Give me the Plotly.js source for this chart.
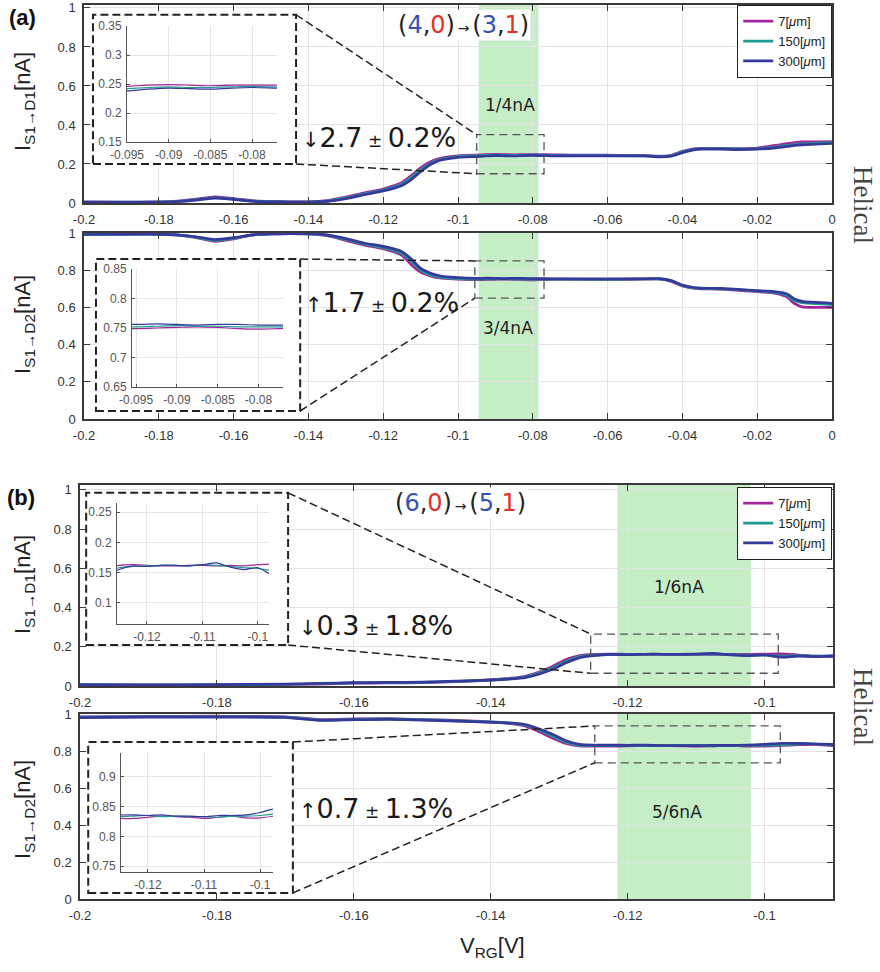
<!DOCTYPE html>
<html>
<head>
<meta charset="utf-8">
<script src="https://cdn.plot.ly/plotly-3.0.1.min.js"></script>
<style>
  html, body { margin: 0; padding: 0; background: #fff; }
  #chart { width: 880px; height: 972px; }
</style>
</head>
<body>
<div id="chart"></div>
<script>
// ---- Panel (a): gate sweep and currents for the three channel lengths ----
const xA = [-0.2, -0.19, -0.18, -0.175, -0.17, -0.165, -0.16, -0.155, -0.15, -0.145,
            -0.14, -0.135, -0.13, -0.125, -0.12, -0.115, -0.1125, -0.11, -0.1075, -0.105,
            -0.1, -0.095, -0.0925, -0.09, -0.0875, -0.085, -0.0825, -0.08, -0.0775, -0.075,
            -0.07, -0.06, -0.05, -0.046, -0.043, -0.04, -0.037, -0.035, -0.03, -0.025,
            -0.02, -0.015, -0.012, -0.01, -0.008, 0];

const a1_7   = [0.006, 0.005, 0.006, 0.010, 0.020, 0.032, 0.022, 0.012, 0.008, 0.006,
                0.006, 0.012, 0.030, 0.052, 0.072, 0.105, 0.140, 0.180, 0.210, 0.228,
                0.242, 0.246, 0.248, 0.249, 0.248, 0.247, 0.248, 0.248, 0.248, 0.247,
                0.246, 0.245, 0.244, 0.240, 0.245, 0.265, 0.278, 0.280, 0.280, 0.279,
                0.282, 0.295, 0.305, 0.310, 0.313, 0.315];
const a1_150 = [0.004, 0.004, 0.005, 0.008, 0.017, 0.028, 0.020, 0.010, 0.007, 0.005,
                0.005, 0.010, 0.026, 0.047, 0.066, 0.097, 0.130, 0.170, 0.200, 0.222,
                0.238, 0.242, 0.244, 0.245, 0.244, 0.244, 0.245, 0.246, 0.245, 0.244,
                0.243, 0.243, 0.242, 0.238, 0.243, 0.262, 0.275, 0.278, 0.279, 0.277,
                0.278, 0.287, 0.295, 0.300, 0.303, 0.310];
const a1_300 = [0.003, 0.003, 0.004, 0.007, 0.015, 0.025, 0.018, 0.009, 0.006, 0.005,
                0.005, 0.008, 0.022, 0.043, 0.062, 0.090, 0.120, 0.160, 0.195, 0.218,
                0.234, 0.238, 0.241, 0.243, 0.242, 0.241, 0.243, 0.244, 0.243, 0.242,
                0.242, 0.242, 0.241, 0.236, 0.240, 0.258, 0.272, 0.276, 0.276, 0.274,
                0.276, 0.283, 0.290, 0.295, 0.298, 0.305];

const a2_7   = [0.995, 0.996, 0.995, 0.990, 0.975, 0.955, 0.968, 0.990, 0.995, 0.996,
                0.995, 0.985, 0.960, 0.935, 0.915, 0.880, 0.830, 0.790, 0.770, 0.758,
                0.752, 0.749, 0.750, 0.751, 0.752, 0.751, 0.749, 0.748, 0.749, 0.750,
                0.751, 0.750, 0.752, 0.752, 0.740, 0.715, 0.703, 0.700, 0.698, 0.692,
                0.685, 0.675, 0.655, 0.620, 0.603, 0.600];
const a2_150 = [0.993, 0.994, 0.994, 0.990, 0.978, 0.960, 0.972, 0.990, 0.995, 0.996,
                0.995, 0.988, 0.965, 0.940, 0.922, 0.890, 0.850, 0.800, 0.775, 0.763,
                0.755, 0.752, 0.753, 0.754, 0.753, 0.753, 0.752, 0.752, 0.752, 0.752,
                0.752, 0.751, 0.753, 0.753, 0.743, 0.718, 0.705, 0.702, 0.700, 0.695,
                0.688, 0.680, 0.665, 0.635, 0.625, 0.615];
const a2_300 = [0.992, 0.993, 0.993, 0.989, 0.980, 0.965, 0.975, 0.990, 0.995, 0.996,
                0.996, 0.990, 0.970, 0.945, 0.928, 0.900, 0.860, 0.810, 0.785, 0.770,
                0.760, 0.756, 0.757, 0.756, 0.755, 0.756, 0.756, 0.755, 0.755, 0.754,
                0.754, 0.753, 0.754, 0.755, 0.745, 0.720, 0.707, 0.704, 0.702, 0.697,
                0.690, 0.683, 0.672, 0.645, 0.632, 0.622];

// ---- Panel (b) ----
const xB = [-0.2, -0.19, -0.18, -0.17, -0.165, -0.16, -0.155, -0.15, -0.145, -0.14,
            -0.137, -0.135, -0.133, -0.131, -0.129, -0.127, -0.125, -0.1225, -0.12, -0.1175,
            -0.115, -0.1125, -0.11, -0.1075, -0.105, -0.1025, -0.1, -0.0975, -0.095, -0.0925,
            -0.09];

const b1_7   = [0.005, 0.004, 0.005, 0.008, 0.010, 0.014, 0.016, 0.017, 0.022, 0.032,
                0.040, 0.050, 0.070, 0.100, 0.135, 0.155, 0.162, 0.163, 0.162, 0.161,
                0.161, 0.162, 0.162, 0.161, 0.162, 0.161, 0.163, 0.164, 0.158, 0.152,
                0.150];
const b1_150 = [0.006, 0.005, 0.006, 0.009, 0.012, 0.016, 0.017, 0.018, 0.023, 0.030,
                0.038, 0.046, 0.065, 0.092, 0.125, 0.150, 0.158, 0.160, 0.161, 0.162,
                0.162, 0.161, 0.163, 0.162, 0.160, 0.158, 0.157, 0.153, 0.155, 0.152,
                0.152];
const b1_300 = [0.007, 0.006, 0.007, 0.010, 0.013, 0.017, 0.018, 0.020, 0.025, 0.030,
                0.036, 0.043, 0.060, 0.085, 0.118, 0.145, 0.155, 0.161, 0.160, 0.162,
                0.162, 0.161, 0.163, 0.166, 0.159, 0.155, 0.158, 0.147, 0.152, 0.150,
                0.155];

const b2_7   = [0.990, 0.992, 0.993, 0.990, 0.975, 0.978, 0.980, 0.975, 0.970, 0.962,
                0.952, 0.940, 0.910, 0.875, 0.845, 0.832, 0.830, 0.830, 0.832, 0.834,
                0.833, 0.832, 0.830, 0.832, 0.834, 0.831, 0.831, 0.834, 0.838, 0.840,
                0.832];
const b2_150 = [0.988, 0.990, 0.990, 0.988, 0.972, 0.976, 0.978, 0.974, 0.968, 0.962,
                0.955, 0.945, 0.920, 0.885, 0.852, 0.836, 0.833, 0.834, 0.835, 0.833,
                0.834, 0.833, 0.833, 0.832, 0.834, 0.834, 0.835, 0.838, 0.843, 0.842,
                0.836];
const b2_300 = [0.985, 0.988, 0.988, 0.986, 0.970, 0.974, 0.976, 0.972, 0.966, 0.960,
                0.956, 0.948, 0.925, 0.895, 0.860, 0.840, 0.836, 0.836, 0.835, 0.836,
                0.834, 0.834, 0.833, 0.835, 0.835, 0.836, 0.840, 0.846, 0.845, 0.842,
                0.840];

// ---- tick labels ----
const tickXA = [-0.2, -0.18, -0.16, -0.14, -0.12, -0.1, -0.08, -0.06, -0.04, -0.02, 0];
const tickXAText = ['-0.2', '-0.18', '-0.16', '-0.14', '-0.12', '-0.1', '-0.08', '-0.06', '-0.04', '-0.02', '0'];
const tickXB = [-0.2, -0.18, -0.16, -0.14, -0.12, -0.1];
const tickXBText = ['-0.2', '-0.18', '-0.16', '-0.14', '-0.12', '-0.1'];
const tickY = [0, 0.2, 0.4, 0.6, 0.8, 1];
const tickYText = ['0', '0.2', '0.4', '0.6', '0.8', '1'];
const tickInsA = [-0.095, -0.09, -0.085, -0.08];
const tickInsAText = ['-0.095', '-0.09', '-0.085', '-0.08'];
const tickInsB = [-0.12, -0.11, -0.1];
const tickInsBText = ['-0.12', '-0.11', '-0.1'];
const tickInsA1Y = [0.15, 0.2, 0.25, 0.3, 0.35];
const tickInsA1YText = ['0.15', '0.2', '0.25', '0.3', '0.35'];
const tickInsA2Y = [0.65, 0.7, 0.75, 0.8, 0.85];
const tickInsA2YText = ['0.65', '0.7', '0.75', '0.8', '0.85'];
const tickInsB1Y = [0.1, 0.15, 0.2, 0.25];
const tickInsB1YText = ['0.1', '0.15', '0.2', '0.25'];
const tickInsB2Y = [0.75, 0.8, 0.85, 0.9];
const tickInsB2YText = ['0.75', '0.8', '0.85', '0.9'];

// plateau bands (gate voltage windows)
const bandA = [-0.0945, -0.0785];
const bandB = [-0.1215, -0.102];

// zoom windows shown in the insets
const winA1X = [-0.095, -0.077], winA1Y = [0.15, 0.35];
const winA2X = [-0.0955, -0.077], winA2Y = [0.65, 0.85];
const winB1X = [-0.1254, -0.098], winB1Y = [0.065, 0.265];
const winB2X = [-0.1248, -0.0977], winB2Y = [0.74, 0.94];

// dashed frames around each inset, in the host panel's data units
const boxA1X = [-0.1976, -0.1433], boxA1Y = [0.2, 0.965];
const boxA2X = [-0.1968, -0.1422], boxA2Y = [0.043, 0.86];
const boxB1X = [-0.1991, -0.1696], boxB1Y = [0.209, 0.985];
const boxB2X = [-0.1988, -0.1689], boxB2Y = [0.033, 0.853];

const seriesNames = ['7[<i>\u03bc</i>m]', '150[<i>\u03bc</i>m]', '300[<i>\u03bc</i>m]'];
const seriesColors = ['#a0269c', '#1f9b92', '#35399b'];

const SANS = '"Liberation Sans", Arial, sans-serif';
const DJV = '"DejaVu Sans", Verdana, sans-serif';
const SERIF = '"Liberation Serif", "Times New Roman", serif';

const W = 880, H = 972;
const px = v => v / W;
const py = v => 1 - v / H;

const traces = [];
function addGroup(xs, ys, axId, width, legendKey) {
  ys.forEach((y, i) => {
    traces.push({
      type: 'scatter', mode: 'lines', x: xs, y: y,
      xaxis: 'x' + axId, yaxis: 'y' + axId,
      name: seriesNames[i],
      line: { color: seriesColors[i], width: width, shape: 'spline', smoothing: 0.6 },
      showlegend: !!legendKey,
      legend: legendKey || 'legend',
      hoverinfo: 'skip'
    });
  });
}
addGroup(xA, [a1_7, a1_150, a1_300], '', 2.7, 'legend');
addGroup(xA, [a2_7, a2_150, a2_300], '2', 2.7, null);
addGroup(xB, [b1_7, b1_150, b1_300], '3', 2.7, 'legend2');
addGroup(xB, [b2_7, b2_150, b2_300], '4', 2.7, null);
addGroup(xA, [a1_7, a1_150, a1_300], '5', 1.2, null);
addGroup(xA, [a2_7, a2_150, a2_300], '6', 1.2, null);
addGroup(xB, [b1_7, b1_150, b1_300], '7', 1.2, null);
addGroup(xB, [b2_7, b2_150, b2_300], '8', 1.2, null);

const axMain = {
  showline: true, mirror: 'ticks', linecolor: '#3a3a3a', linewidth: 1.5,
  ticks: 'inside', ticklen: 6, tickwidth: 1.2, tickcolor: '#3a3a3a',
  showgrid: true, gridcolor: '#e3e3e3', gridwidth: 1, zeroline: false,
  tickfont: { family: SANS, size: 13, color: '#333' }, ticklabelstandoff: 4,
  ticklabeloverflow: 'allow', fixedrange: true, tickmode: 'array'
};
const axInset = {
  showline: true, mirror: false, linecolor: '#555', linewidth: 1,
  ticks: 'inside', ticklen: 3, tickwidth: 1, tickcolor: '#555',
  showgrid: true, gridcolor: '#e6e6e6', gridwidth: 1, zeroline: false,
  tickfont: { family: SANS, size: 12, color: '#555' }, ticklabelstandoff: 2,
  ticklabeloverflow: 'allow', fixedrange: true, tickmode: 'array'
};
const ax = (base, extra) => Object.assign({}, base, extra);

const legendStyle = {
  xanchor: 'right', yanchor: 'top',
  bgcolor: '#fff', bordercolor: '#222', borderwidth: 1.2,
  font: { family: SANS, size: 13, color: '#222' }, tracegroupgap: 0
};

const layout = {
  width: W, height: H,
  margin: { l: 0, r: 0, t: 0, b: 0 },
  paper_bgcolor: '#fff', plot_bgcolor: '#fff',
  font: { family: SANS, color: '#222' },
  xaxis:  ax(axMain, { domain: [px(84), px(832)], range: [-0.2, 0], anchor: 'y', tickvals: tickXA, ticktext: tickXAText }),
  yaxis:  ax(axMain, { domain: [py(203), py(5)], range: [0, 1.015], anchor: 'x', tickvals: tickY, ticktext: tickYText }),
  xaxis2: ax(axMain, { domain: [px(84), px(832)], range: [-0.2, 0], anchor: 'y2', tickvals: tickXA, ticktext: tickXAText }),
  yaxis2: ax(axMain, { domain: [py(419), py(233)], range: [0, 1], anchor: 'x2', tickvals: tickY, ticktext: tickYText }),
  xaxis3: ax(axMain, { domain: [px(80), px(833)], range: [-0.2, -0.09], anchor: 'y3', tickvals: tickXB, ticktext: tickXBText }),
  yaxis3: ax(axMain, { domain: [py(686), py(485)], range: [0, 1.025], anchor: 'x3', tickvals: tickY, ticktext: tickYText }),
  xaxis4: ax(axMain, { domain: [px(80), px(833)], range: [-0.2, -0.09], anchor: 'y4', tickvals: tickXB, ticktext: tickXBText }),
  yaxis4: ax(axMain, { domain: [py(899), py(714)], range: [0, 1.005], anchor: 'x4', tickvals: tickY, ticktext: tickYText }),

  xaxis5: ax(axInset, { domain: [px(127), px(277)], range: winA1X, anchor: 'y5', tickvals: tickInsA, ticktext: tickInsAText }),
  yaxis5: ax(axInset, { domain: [py(142), py(26)], range: winA1Y, anchor: 'x5', tickvals: tickInsA1Y, ticktext: tickInsA1YText }),
  xaxis6: ax(axInset, { domain: [px(132), px(283)], range: winA2X, anchor: 'y6', tickvals: tickInsA, ticktext: tickInsAText }),
  yaxis6: ax(axInset, { domain: [py(387), py(269)], range: winA2Y, anchor: 'x6', tickvals: tickInsA2Y, ticktext: tickInsA2YText }),
  xaxis7: ax(axInset, { domain: [px(117), px(269)], range: winB1X, anchor: 'y7', tickvals: tickInsB, ticktext: tickInsBText }),
  yaxis7: ax(axInset, { domain: [py(624), py(503)], range: winB1Y, anchor: 'x7', tickvals: tickInsB1Y, ticktext: tickInsB1YText }),
  xaxis8: ax(axInset, { domain: [px(121), px(273)], range: winB2X, anchor: 'y8', tickvals: tickInsB, ticktext: tickInsBText }),
  yaxis8: ax(axInset, { domain: [py(872), py(753)], range: winB2Y, anchor: 'x8', tickvals: tickInsB2Y, ticktext: tickInsB2YText }),

  legend:  Object.assign({ x: px(832), y: py(5) }, legendStyle),
  legend2: Object.assign({ x: px(832), y: py(487) }, legendStyle),
  shapes: [],
  annotations: []
};

// green plateau bands
[['x', 'y', bandA], ['x2', 'y2', bandA], ['x3', 'y3', bandB], ['x4', 'y4', bandB]].forEach(([xr, yr, b]) => {
  layout.shapes.push({
    type: 'rect', xref: xr, yref: yr + ' domain', x0: b[0], x1: b[1], y0: 0, y1: 1,
    fillcolor: '#c6eec6', line: { width: 0 }, layer: 'below'
  });
});

// inset frames, zoom windows and the connecting lines
const zooms = [
  ['x', 'y', boxA1X, boxA1Y, winA1X, winA1Y],
  ['x2', 'y2', boxA2X, boxA2Y, winA2X, winA2Y],
  ['x3', 'y3', boxB1X, boxB1Y, winB1X, winB1Y],
  ['x4', 'y4', boxB2X, boxB2Y, winB2X, winB2Y]
];
zooms.forEach(([xr, yr, bx, by, wx, wy]) => {
  layout.shapes.push({
    type: 'rect', xref: xr, yref: yr, x0: bx[0], x1: bx[1], y0: by[0], y1: by[1],
    fillcolor: '#fff', line: { color: '#222', width: 2, dash: '8px,4px' }, layer: 'between'
  });
  layout.shapes.push({
    type: 'rect', xref: xr, yref: yr, x0: wx[0], x1: wx[1], y0: wy[0], y1: wy[1],
    fillcolor: 'rgba(0,0,0,0)', line: { color: '#555', width: 1.3, dash: '8px,5px' }, layer: 'above'
  });
  layout.shapes.push({
    type: 'line', xref: xr, yref: yr, x0: bx[1], y0: by[1], x1: wx[0], y1: wy[1],
    line: { color: '#222', width: 1.5, dash: '8px,4px' }, layer: 'above'
  });
  layout.shapes.push({
    type: 'line', xref: xr, yref: yr, x0: bx[1], y0: by[0], x1: wx[0], y1: wy[0],
    line: { color: '#222', width: 1.5, dash: '8px,4px' }, layer: 'above'
  });
});

function note(text, x, y, opts) {
  layout.annotations.push(Object.assign({
    text: text, xref: 'paper', yref: 'paper', x: px(x), y: py(y),
    showarrow: false, xanchor: 'center', yanchor: 'middle'
  }, opts || {}));
}

const BLUE = '#3450b4', RED = '#e3302a';
const trans = (a, b, c, d) =>
  '(<span style="color:' + BLUE + '">' + a + '</span>,<span style="color:' + RED + '">' + b + '</span>)' +
  '<span style="font-size:14px">\u2009\u2192\u2009</span>' +
  '(<span style="color:' + BLUE + '">' + c + '</span>,<span style="color:' + RED + '">' + d + '</span>)';

// panel letters
note('<b>(a)</b>', 22, 18, { font: { family: SANS, size: 22, color: '#111' } });
note('<b>(b)</b>', 21, 497, { font: { family: SANS, size: 22, color: '#111' } });

// transitions
note(trans('4', '0', '3', '1'), 464, 25, { font: { family: DJV, size: 24, color: '#222' }, bgcolor: '#fff', borderpad: 1 });
note(trans('6', '0', '5', '1'), 461, 503, { font: { family: DJV, size: 24, color: '#222' }, bgcolor: '#fff', borderpad: 1 });

// plateau values
const bandFont = { family: DJV, size: 17, color: '#222' };
note('1/4nA', 510, 105, { font: bandFont });
note('3/4nA', 508, 328, { font: bandFont });
note('1/6nA', 679, 587, { font: bandFont });
note('5/6nA', 677, 812, { font: bandFont });

// relative changes
const pct = (arrow, a, b) =>
  '<span style="font-size:21px">' + arrow + '</span>' + a +
  '<span style="font-size:17px"> \u00b1 </span>' + b + '%';
const pctFont = { family: DJV, size: 27, color: '#1a1a1a' };
note(pct('\u2193', '2.7', '0.2'), 300, 138, { font: pctFont, xanchor: 'left' });
note(pct('\u2191', '1.7', '0.2'), 303, 302, { font: pctFont, xanchor: 'left' });
note(pct('\u2193', '0.3', '1.8'), 297, 625, { font: pctFont, xanchor: 'left' });
note(pct('\u2191', '0.7', '1.3'), 297, 808, { font: pctFont, xanchor: 'left' });

// side labels
note('Helical', 863, 205, { font: { family: SERIF, size: 27, color: '#444' }, textangle: 90 });
note('Helical', 863, 707, { font: { family: SERIF, size: 27, color: '#444' }, textangle: 90 });

// axis titles
const yTitleFont = { family: SANS, size: 22, color: '#222' };
note('I<sub>S1\u2192D1</sub>[nA]', 24, 102, { font: yTitleFont, textangle: -90 });
note('I<sub>S1\u2192D2</sub>[nA]', 24, 325, { font: yTitleFont, textangle: -90 });
note('I<sub>S1\u2192D1</sub>[nA]', 24, 585, { font: yTitleFont, textangle: -90 });
note('I<sub>S1\u2192D2</sub>[nA]', 24, 810, { font: yTitleFont, textangle: -90 });
note('V<sub>RG</sub>[V]', 492, 947, { font: { family: SANS, size: 22, color: '#222' } });

Plotly.newPlot('chart', traces, layout, { displayModeBar: false, responsive: false });
</script>
</body>
</html>
